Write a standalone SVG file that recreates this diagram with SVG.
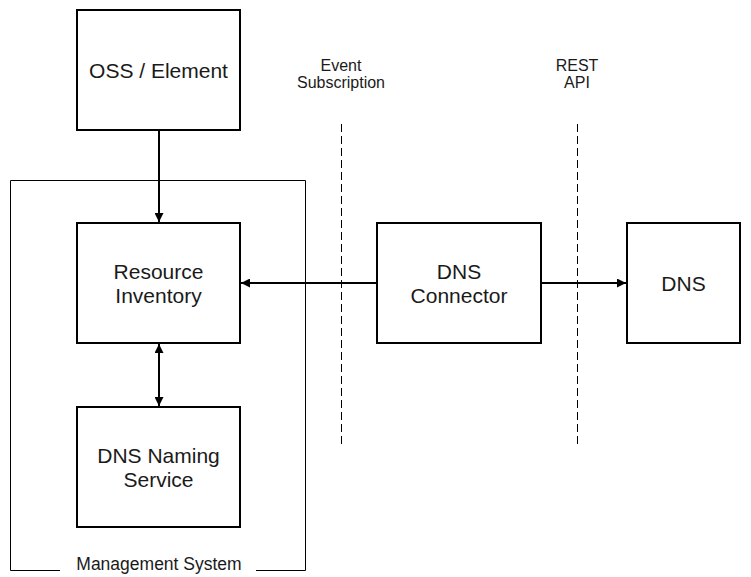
<svg xmlns="http://www.w3.org/2000/svg" width="751" height="577" viewBox="0 0 751 577">
<style>
.box{fill:#fff;stroke:#000;stroke-width:2}
.lbl{font-family:"Liberation Sans",Arial,sans-serif;font-size:21px;fill:#1a1a1a;text-anchor:middle}
.sm{font-family:"Liberation Sans",Arial,sans-serif;font-size:16px;fill:#1a1a1a;text-anchor:middle}
.conn{stroke:#000;stroke-width:2;fill:none}
.dash{stroke:#000;stroke-width:1;stroke-dasharray:8,4;fill:none}
</style>
<defs>
<marker id="ah" viewBox="0 0 10 10" refX="10" refY="5" markerWidth="4.5" markerHeight="4.5" orient="auto-start-reverse" markerUnits="strokeWidth">
<path d="M0,0 L10,5 L0,10 z" fill="#000"/>
</marker>
</defs>
<rect width="751" height="577" fill="#fff"/>
<g id="management-system">
<path d="M60,570.5 H10.5 V180.5 H305.5 V570.5 H256" fill="none" stroke="#000" stroke-width="1"/>
<text class="lbl" x="159" y="570" style="font-size:17.5px">Management System</text>
</g>
<g id="boundaries">
<line class="dash" x1="341.5" y1="124" x2="341.5" y2="445"/>
<text class="sm" x="341" y="71">Event</text>
<text class="sm" x="341" y="88">Subscription</text>
<line class="dash" x1="577.5" y1="124" x2="577.5" y2="445"/>
<text class="sm" x="577" y="71">REST</text>
<text class="sm" x="577" y="88">API</text>
</g>
<g id="connectors">
<line class="conn" x1="159" y1="130" x2="159" y2="222" marker-end="url(#ah)"/>
<line class="conn" x1="159" y1="344" x2="159" y2="406" marker-start="url(#ah)" marker-end="url(#ah)"/>
<line class="conn" x1="377" y1="283" x2="241" y2="283" marker-end="url(#ah)"/>
<line class="conn" x1="541" y1="283" x2="626" y2="283" marker-end="url(#ah)"/>
</g>
<g id="oss-element">
<rect class="box" x="77" y="10" width="163" height="120"/>
<text class="lbl" x="158.5" y="78">OSS / Element</text>
</g>
<g id="resource-inventory">
<rect class="box" x="77" y="223" width="163" height="120"/>
<text class="lbl" x="158.5" y="279">Resource</text>
<text class="lbl" x="158.5" y="303">Inventory</text>
</g>
<g id="dns-naming-service">
<rect class="box" x="77" y="407" width="163" height="120"/>
<text class="lbl" x="158.5" y="463">DNS Naming</text>
<text class="lbl" x="158.5" y="487">Service</text>
</g>
<g id="dns-connector">
<rect class="box" x="377" y="223" width="164" height="120"/>
<text class="lbl" x="459" y="279">DNS</text>
<text class="lbl" x="459" y="303">Connector</text>
</g>
<g id="dns">
<rect class="box" x="627" y="223" width="113" height="120"/>
<text class="lbl" x="683.5" y="291">DNS</text>
</g>
</svg>
